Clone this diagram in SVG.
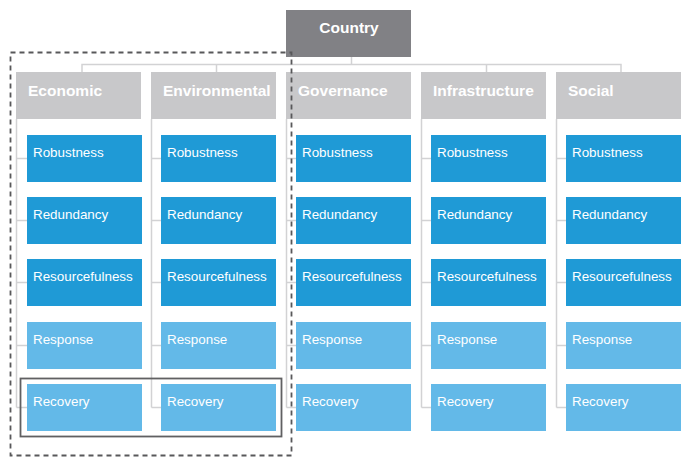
<svg xmlns="http://www.w3.org/2000/svg" width="683" height="461" viewBox="0 0 683 461">
<style>
.bg{fill:#ffffff}
.root{fill:#818185}
.hdr{fill:#c8c8ca}
.dk{fill:#1f9ad6}
.lt{fill:#63b9e8}
.ht{font-family:"Liberation Sans",Arial,sans-serif;font-weight:bold;font-size:15.5px;fill:#ffffff}
.st{font-family:"Liberation Sans",Arial,sans-serif;font-size:13.4px;fill:#ffffff}
.ln{fill:none;stroke:#d2d2d4;stroke-width:1.5}
.dash{fill:none;stroke:#58585a;stroke-width:1.8;stroke-dasharray:5 4}
.sel{fill:none;stroke:#606062;stroke-width:1.8}
</style>
<rect class="bg" x="0" y="0" width="683" height="461"/>
<g id="connectors">
<path class="ln" d="M351.5 57V64.5M82 72V64.5H621V72M216.5 64.5V72M486.5 64.5V72"/>
<path class="ln" d="M16.5 119V407.5M16.5 158.5H27M16.5 220.5H27M16.5 282.5H27M16.5 345.5H27M16.5 407.5H27"/>
<path class="ln" d="M151.5 119V407.5M151.5 158.5H161M151.5 220.5H161M151.5 282.5H161M151.5 345.5H161M151.5 407.5H161"/>
<path class="ln" d="M286.5 119V407.5M286.5 158.5H296M286.5 220.5H296M286.5 282.5H296M286.5 345.5H296M286.5 407.5H296"/>
<path class="ln" d="M421.5 119V407.5M421.5 158.5H431M421.5 220.5H431M421.5 282.5H431M421.5 345.5H431M421.5 407.5H431"/>
<path class="ln" d="M556.5 119V407.5M556.5 158.5H566M556.5 220.5H566M556.5 282.5H566M556.5 345.5H566M556.5 407.5H566"/>
</g>
<g id="country">
<rect class="root" x="286" y="10" width="125" height="47"/>
<text class="ht" x="349" y="33" text-anchor="middle">Country</text>
</g>
<g id="economic">
<rect class="hdr" x="16" y="72" width="125" height="47"/>
<text class="ht" x="28" y="96">Economic</text>
<rect class="dk" x="27" y="135" width="115" height="47"/><text class="st" x="33" y="157">Robustness</text>
<rect class="dk" x="27" y="197" width="115" height="47"/><text class="st" x="33" y="219">Redundancy</text>
<rect class="dk" x="27" y="259" width="115" height="47"/><text class="st" x="33" y="281">Resourcefulness</text>
<rect class="lt" x="27" y="322" width="115" height="47"/><text class="st" x="33" y="344">Response</text>
<rect class="lt" x="27" y="384" width="115" height="47"/><text class="st" x="33" y="406">Recovery</text>
</g>
<g id="environmental">
<rect class="hdr" x="151" y="72" width="125" height="47"/>
<text class="ht" x="163" y="96">Environmental</text>
<rect class="dk" x="161" y="135" width="115" height="47"/><text class="st" x="167" y="157">Robustness</text>
<rect class="dk" x="161" y="197" width="115" height="47"/><text class="st" x="167" y="219">Redundancy</text>
<rect class="dk" x="161" y="259" width="115" height="47"/><text class="st" x="167" y="281">Resourcefulness</text>
<rect class="lt" x="161" y="322" width="115" height="47"/><text class="st" x="167" y="344">Response</text>
<rect class="lt" x="161" y="384" width="115" height="47"/><text class="st" x="167" y="406">Recovery</text>
</g>
<g id="governance">
<rect class="hdr" x="286" y="72" width="125" height="47"/>
<text class="ht" x="298" y="96">Governance</text>
<rect class="dk" x="296" y="135" width="115" height="47"/><text class="st" x="302" y="157">Robustness</text>
<rect class="dk" x="296" y="197" width="115" height="47"/><text class="st" x="302" y="219">Redundancy</text>
<rect class="dk" x="296" y="259" width="115" height="47"/><text class="st" x="302" y="281">Resourcefulness</text>
<rect class="lt" x="296" y="322" width="115" height="47"/><text class="st" x="302" y="344">Response</text>
<rect class="lt" x="296" y="384" width="115" height="47"/><text class="st" x="302" y="406">Recovery</text>
</g>
<g id="infrastructure">
<rect class="hdr" x="421" y="72" width="125" height="47"/>
<text class="ht" x="433" y="96">Infrastructure</text>
<rect class="dk" x="431" y="135" width="115" height="47"/><text class="st" x="437" y="157">Robustness</text>
<rect class="dk" x="431" y="197" width="115" height="47"/><text class="st" x="437" y="219">Redundancy</text>
<rect class="dk" x="431" y="259" width="115" height="47"/><text class="st" x="437" y="281">Resourcefulness</text>
<rect class="lt" x="431" y="322" width="115" height="47"/><text class="st" x="437" y="344">Response</text>
<rect class="lt" x="431" y="384" width="115" height="47"/><text class="st" x="437" y="406">Recovery</text>
</g>
<g id="social">
<rect class="hdr" x="556" y="72" width="125" height="47"/>
<text class="ht" x="568" y="96">Social</text>
<rect class="dk" x="566" y="135" width="115" height="47"/><text class="st" x="572" y="157">Robustness</text>
<rect class="dk" x="566" y="197" width="115" height="47"/><text class="st" x="572" y="219">Redundancy</text>
<rect class="dk" x="566" y="259" width="115" height="47"/><text class="st" x="572" y="281">Resourcefulness</text>
<rect class="lt" x="566" y="322" width="115" height="47"/><text class="st" x="572" y="344">Response</text>
<rect class="lt" x="566" y="384" width="115" height="47"/><text class="st" x="572" y="406">Recovery</text>
</g>
<g id="highlights">
<rect class="dash" x="10.5" y="52.5" width="281" height="403"/>
<rect class="sel" x="20.5" y="378.5" width="261" height="58"/>
</g>
</svg>
